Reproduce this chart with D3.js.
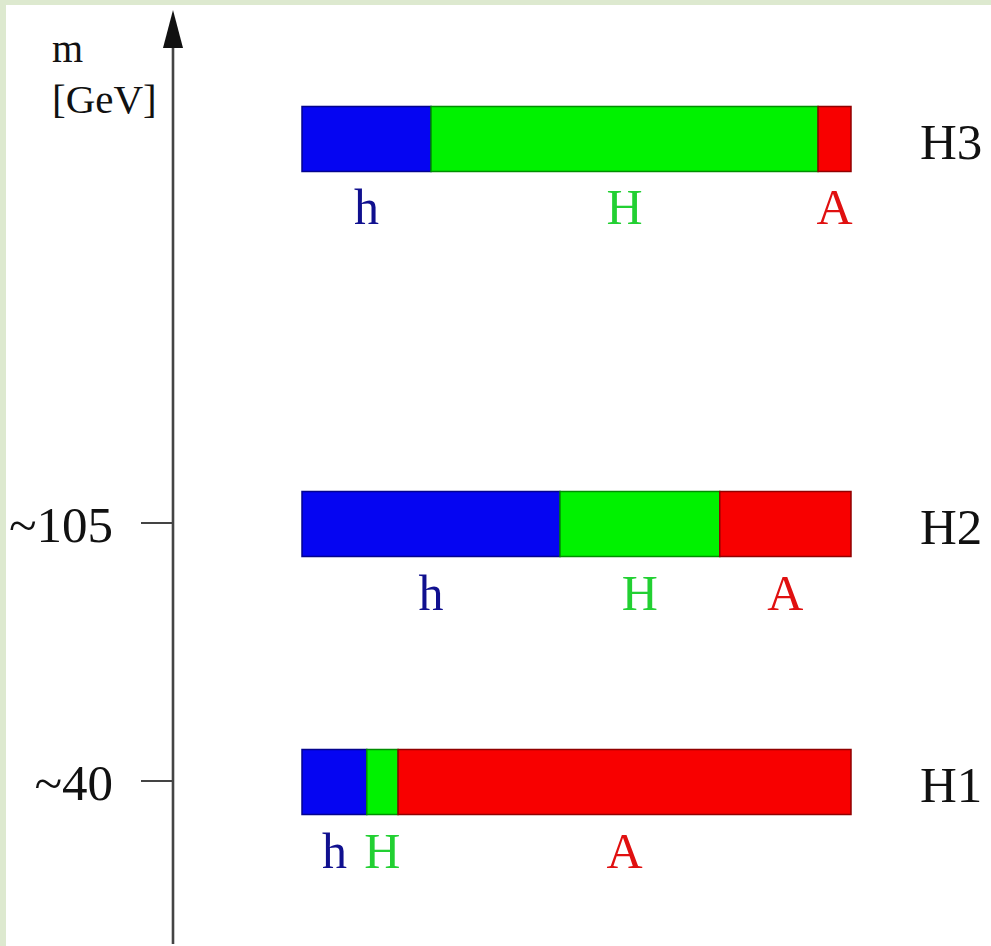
<!DOCTYPE html>
<html>
<head>
<meta charset="utf-8">
<script src="https://cdn.jsdelivr.net/npm/d3@7"></script>
<style>
  body { margin: 0; background: #dde9cf; }
  svg { display: block; }
</style>
</head>
<body>
<svg id="chart" width="991" height="946"></svg>
<script>
// states, ordered bottom to top, with an approximate mass
const states = ["H1", "H2", "H3"];
const masses = [40, 105, 202];
const tickMasses = [40, 105];
const tickLabels = ["~40", "~105"];
// composition of each state
const components = ["h", "H", "A"];
const colors = ["#0505f2", "#00f200", "#f80000"];
const labelColors = ["#10108f", "#22d032", "#e01010"];
const fracH1 = [0.118, 0.057, 0.825];
const fracH2 = [0.47, 0.291, 0.239];
const fracH3 = [0.235, 0.705, 0.06];
const fractions = [fracH1, fracH2, fracH3];

(function () {
    const svg = d3.select("#chart");
    const serif = "'Liberation Serif', 'DejaVu Serif', serif";

    svg.append("rect")
        .attr("x", 6).attr("y", 5)
        .attr("width", 991 - 6).attr("height", 946 - 5)
        .attr("fill", "white");

    const axisX = 173;
    const y = d3.scaleLinear().domain([40, 105]).range([782, 524]);
    const x = d3.scaleLinear().domain([0, 1]).range([302, 851]);
    const barH = 65;

    // vertical axis with arrow
    svg.append("line")
        .attr("x1", axisX).attr("x2", axisX)
        .attr("y1", 40).attr("y2", 944)
        .attr("stroke", "#444").attr("stroke-width", 2.6);
    svg.append("path")
        .attr("d", `M${axisX},10 L${axisX - 10},48 L${axisX + 10},48 Z`)
        .attr("fill", "#111");

    svg.append("text")
        .attr("x", 52).attr("y", 62)
        .style("font-family", serif).style("font-size", "40px")
        .attr("fill", "#111")
        .text("m");
    svg.append("text")
        .attr("x", 52).attr("y", 113)
        .style("font-family", serif).style("font-size", "41px")
        .attr("fill", "#111")
        .text("[GeV]");

    // ticks
    tickMasses.forEach((m, i) => {
        svg.append("line")
            .attr("x1", axisX - 32).attr("x2", axisX)
            .attr("y1", y(m) - 1).attr("y2", y(m) - 1)
            .attr("stroke", "#444").attr("stroke-width", 2);
        svg.append("text")
            .attr("x", 113).attr("y", y(m) + 18)
            .attr("text-anchor", "end")
            .style("font-family", serif).style("font-size", "51px")
            .attr("fill", "#111")
            .text(tickLabels[i]);
    });

    // stacked bars
    states.forEach((s, si) => {
        const cy = y(masses[si]);
        const top = cy - barH / 2;
        let acc = 0;
        fractions[si].forEach((f, ci) => {
            const x0 = x(acc), x1 = x(acc + f);
            acc += f;
            svg.append("rect")
                .attr("x", x0).attr("y", top)
                .attr("width", x1 - x0).attr("height", barH)
                .attr("fill", colors[ci])
                .attr("stroke", d3.color(colors[ci]).darker(1.5))
                .attr("stroke-width", 1.5);
            svg.append("text")
                .attr("x", (x0 + x1) / 2).attr("y", top + barH + 53)
                .attr("text-anchor", "middle")
                .style("font-family", serif).style("font-size", "50px")
                .attr("fill", labelColors[ci])
                .text(components[ci]);
        });
        svg.append("text")
            .attr("x", 920).attr("y", cy + 20)
            .style("font-family", serif).style("font-size", "51px")
            .attr("fill", "#111")
            .text(s);
    });
})();
</script>
</body>
</html>
